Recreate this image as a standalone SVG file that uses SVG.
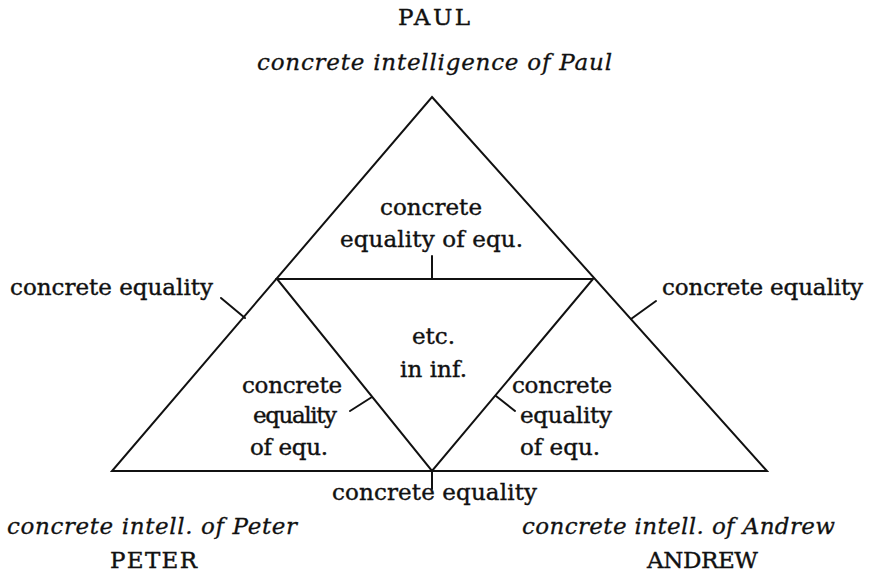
<svg xmlns="http://www.w3.org/2000/svg" width="869" height="572" viewBox="0 0 869 572">
<style>
.t{font-family:"DejaVu Serif","Liberation Serif",serif;font-size:23px;fill:#111;stroke:#111;stroke-width:0.4;}
.i{font-family:"DejaVu Serif","Liberation Serif",serif;font-size:23px;font-style:italic;fill:#111;stroke:#111;stroke-width:0.3;}
.ln{stroke:#111;stroke-width:2;fill:none;stroke-linecap:round;stroke-linejoin:miter;}
</style>
<rect width="869" height="572" fill="#fff"/>
<g id="triangles" class="ln">
<polygon points="432,97 767,471 112,471"/>
<polygon points="277,279 593,279 432,471"/>
</g>
<g id="connectors" class="ln">
<line x1="432" y1="256" x2="432" y2="279"/>
<line x1="221" y1="298" x2="245" y2="318"/>
<line x1="656" y1="301" x2="631" y2="319"/>
<line x1="350" y1="411" x2="372" y2="397"/>
<line x1="515" y1="411" x2="496" y2="396"/>
<line x1="432" y1="471" x2="432" y2="489"/>
</g>
<g id="paul">
<text class="t" x="398" y="25" textLength="72">PAUL</text>
<text class="i" x="257" y="70" textLength="355">concrete intelligence of Paul</text>
</g>
<g id="peter">
<text class="i" x="7" y="534" textLength="290">concrete intell. of Peter</text>
<text class="t" x="110" y="568" textLength="87">PETER</text>
</g>
<g id="andrew">
<text class="i" x="522" y="534" textLength="313">concrete intell. of Andrew</text>
<text class="t" x="647" y="568" textLength="111">ANDREW</text>
</g>
<g id="eq-left"><text class="t" x="10" y="295" textLength="203">concrete equality</text></g>
<g id="eq-right"><text class="t" x="662" y="295" textLength="201">concrete equality</text></g>
<g id="eq-bottom"><text class="t" x="332" y="500" textLength="205">concrete equality</text></g>
<g id="eqeq-top">
<text class="t" x="380" y="215" textLength="102">concrete</text>
<text class="t" x="340" y="247" textLength="183">equality of equ.</text>
</g>
<g id="eqeq-left">
<text class="t" x="242" y="393" textLength="100">concrete</text>
<text class="t" x="253" y="423" textLength="84">equality</text>
<text class="t" x="250" y="455" textLength="78">of equ.</text>
</g>
<g id="eqeq-right">
<text class="t" x="512" y="393" textLength="100">concrete</text>
<text class="t" x="520" y="423" textLength="92">equality</text>
<text class="t" x="520" y="455" textLength="80">of equ.</text>
</g>
<g id="etc">
<text class="t" x="412" y="344" textLength="43">etc.</text>
<text class="t" x="400" y="377" textLength="67">in inf.</text>
</g>
</svg>
